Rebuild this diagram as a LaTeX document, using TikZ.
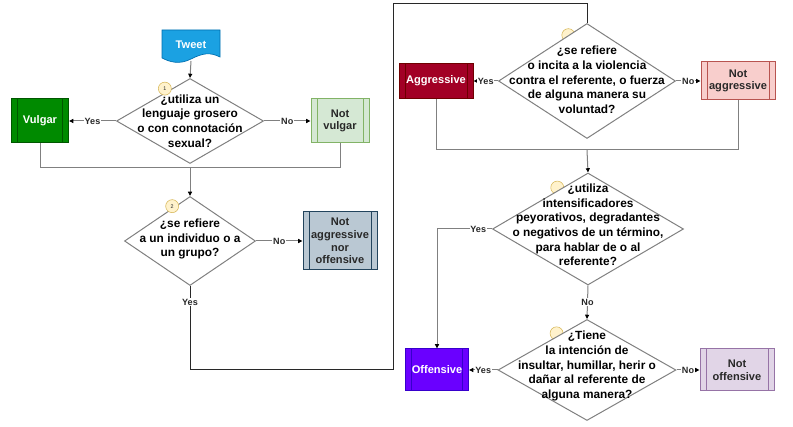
\documentclass[tikz,border=0pt]{standalone}
\usepackage{fontspec}
\setmainfont{Liberation Sans}
\usetikzlibrary{shapes.geometric}
\usetikzlibrary{arrows.meta}
\usetikzlibrary{calc}
\usetikzlibrary{backgrounds}

\definecolor{tweetfill}{RGB}{27,161,226}
\definecolor{tweetline}{RGB}{0,110,175}
\definecolor{vulgfill}{RGB}{0,138,0}
\definecolor{vulgline}{RGB}{0,87,0}
\definecolor{nvulgfill}{RGB}{213,232,212}
\definecolor{nvulgline}{RGB}{130,179,102}
\definecolor{naofill}{RGB}{186,200,211}
\definecolor{naoline}{RGB}{35,68,93}
\definecolor{aggrfill}{RGB}{162,0,37}
\definecolor{aggrline}{RGB}{111,0,0}
\definecolor{naggrfill}{RGB}{248,206,204}
\definecolor{naggrline}{RGB}{184,84,80}
\definecolor{offfill}{RGB}{106,0,255}
\definecolor{offline}{RGB}{55,0,204}
\definecolor{noffill}{RGB}{225,213,231}
\definecolor{noffline}{RGB}{150,115,166}
\definecolor{badgefill}{RGB}{255,242,204}
\definecolor{badgeline}{RGB}{214,182,86}
\definecolor{edgegray}{RGB}{128,128,128}
\definecolor{labgray}{RGB}{40,40,40}

\newcommand{\px}{0.75pt}

\begin{document}
\begin{tikzpicture}[x=0.75pt,y=0.75pt,yscale=-1,xscale=1,
  question/.style={shape=diamond,draw=edgegray,fill=white,line width=0.75pt,inner sep=0pt},
  qtext/.style={align=center,inner sep=0pt,font=\bfseries\fontsize{8.9}{11}\selectfont},
  procbox/.style={rectangle,draw=#1,line width=0.75pt,align=center,inner sep=0pt,
    font=\bfseries\fontsize{8.3}{9.5}\selectfont,
    path picture={
      \draw[#1,line width=0.5pt] ([xshift=4.5pt]path picture bounding box.north west) -- ([xshift=4.5pt]path picture bounding box.south west);
      \draw[#1,line width=0.5pt] ([xshift=-4.5pt]path picture bounding box.north east) -- ([xshift=-4.5pt]path picture bounding box.south east);
    }},
  badge/.style={circle,draw=badgeline,fill=badgefill,minimum size=13*\px,inner sep=0pt,font=\fontsize{4}{4}\selectfont,text=labgray},
  yn/.style={fill=white,inner sep=0.6pt,text=labgray,font=\bfseries\fontsize{6.8}{7}\selectfont},
  flow/.style={draw=edgegray,line width=0.75pt},
  tip/.style={-{Triangle[length=3.2pt,width=3pt,color=black]}},
  loopline/.style={draw=labgray,line width=0.75pt}]
\useasboundingbox (0,0) rectangle (793,427);

%Tweet
\draw [draw=tweetline,fill=tweetfill,line width=0.5pt] (162,30) -- (220,30) -- (220,57) .. controls (210,52) and (203,53) .. (191,59) .. controls (179,65) and (170,62) .. (162,58) -- cycle ;
\node (tweet) [inner sep=0pt,text=white,font=\bfseries\fontsize{8.3}{10}\selectfont] at (191,45) {Tweet};
\coordinate (tweetb) at (191,61);

%first block
\node (q1) [question,minimum width=147*\px,minimum height=85*\px] at (190,121) {};
\node (q1t) [qtext] at (190,121) {¿utiliza un\\lenguaje grosero\\o con connotación\\sexual?};
\node (vulgar) [procbox=vulgline,fill=vulgfill,text=white,minimum width=57*\px,minimum height=44*\px] at (40,121) {Vulgar};
\node (notvulgar) [procbox=nvulgline,fill=nvulgfill,text=labgray,minimum width=58*\px,minimum height=44*\px] at (340,121) {Not\\vulgar};
\coordinate (m1) at (190,168);

%second block
\node (q2) [question,minimum width=131*\px,minimum height=89*\px] at (190,241) {};
\node (q2t) [qtext] at (190,239) {¿se refiere\\a un individuo o a\\un grupo?};
\node (naoff) [procbox=naoline,fill=naofill,text=labgray,minimum width=74*\px,minimum height=58*\px] at (340,241) {Not\\aggressive\\nor\\offensive};

%third block
\node (q3) [question,minimum width=177*\px,minimum height=115*\px] at (587,81) {};
\node (q3t) [qtext] at (587,80) {¿se refiere\\o incita a la violencia\\contra el referente, o fuerza\\de alguna manera su\\voluntad?};
\node (aggr) [procbox=aggrline,fill=aggrfill,text=white,minimum width=74*\px,minimum height=35*\px] at (436,81) {Aggressive};
\node (notaggr) [procbox=naggrline,fill=naggrfill,text=labgray,minimum width=74*\px,minimum height=38*\px] at (738,81) {Not\\aggressive};
\coordinate (m2) at (587,150);

%fourth block
\node (q4) [question,minimum width=191*\px,minimum height=112*\px] at (588,229) {};
\node (q4t) [qtext] at (588,225) {¿utiliza\\intensificadores\\peyorativos, degradantes\\o negativos de un término,\\para hablar de o al\\referente?};
\coordinate (yescorner) at (437,229);

%fifth block
\node (q5) [question,minimum width=178*\px,minimum height=101*\px] at (587,370) {};
\node (q5t) [qtext] at (587,366) {¿Tiene\\la intención de\\insultar, humillar, herir o\\dañar al referente de\\alguna manera?};
\node (offensive) [procbox=offline,fill=offfill,text=white,minimum width=63*\px,minimum height=42*\px] at (437,370) {Offensive};
\node (notoff) [procbox=noffline,fill=noffill,text=labgray,minimum width=74*\px,minimum height=42*\px] at (737,370) {Not\\offensive};

%badges
\node (b1) [badge] at ($(q1.north)!0.34!(q1.west)+(0,-4)$) {1};
\node (b2) [badge] at ($(q2.north)!0.27!(q2.west)+(0,-2)$) {2};
\begin{scope}[on background layer]
\node (b3) [badge] at ($(q3.north)!0.21!(q3.west)$) {};
\node (b4) [badge] at ($(q4.north)!0.32!(q4.west)+(0,-3)$) {};
\node (b5) [badge] at ($(q5.north)!0.34!(q5.west)+(0,-3)$) {};
\end{scope}

%connectors
\draw [flow,tip] (tweetb) -- (q1.north);
\draw [flow,tip] (q1.west) -- node[yn]{Yes} (vulgar.east);
\draw [flow,tip] (q1.east) -- node[yn]{No} (notvulgar.west);
\draw [flow] (vulgar.south) |- (m1);
\draw [flow] (notvulgar.south) |- (m1);
\draw [flow,tip] (m1) -- (q2.north);
\draw [flow,tip] (q2.east) -- node[yn]{No} (naoff.west);

\coordinate (lpa) at (190,370);
\coordinate (lpb) at (393,370);
\coordinate (lpc) at (393,4);
\draw [loopline] (q2.south) -- node[yn,pos=0.19]{Yes} (lpa) -- (lpb) -- (lpc) -| (q3.north);

\draw [flow,tip] (q3.west) -- node[yn]{Yes} (aggr.east);
\draw [flow,tip] (q3.east) -- node[yn]{No} (notaggr.west);
\draw [flow] (aggr.south) |- (m2);
\draw [flow] (notaggr.south) |- (m2);
\draw [flow,tip] (m2) -- (q4.north);
\draw [flow,tip] (q4.west) -- node[yn,pos=0.25]{Yes} (yescorner) -- (offensive.north);
\draw [flow,tip] (q4.south) -- node[yn]{No} (q5.north);
\draw [flow,tip] (q5.west) -- node[yn]{Yes} (offensive.east);
\draw [flow,tip] (q5.east) -- node[yn]{No} (notoff.west);

\end{tikzpicture}
\end{document}
